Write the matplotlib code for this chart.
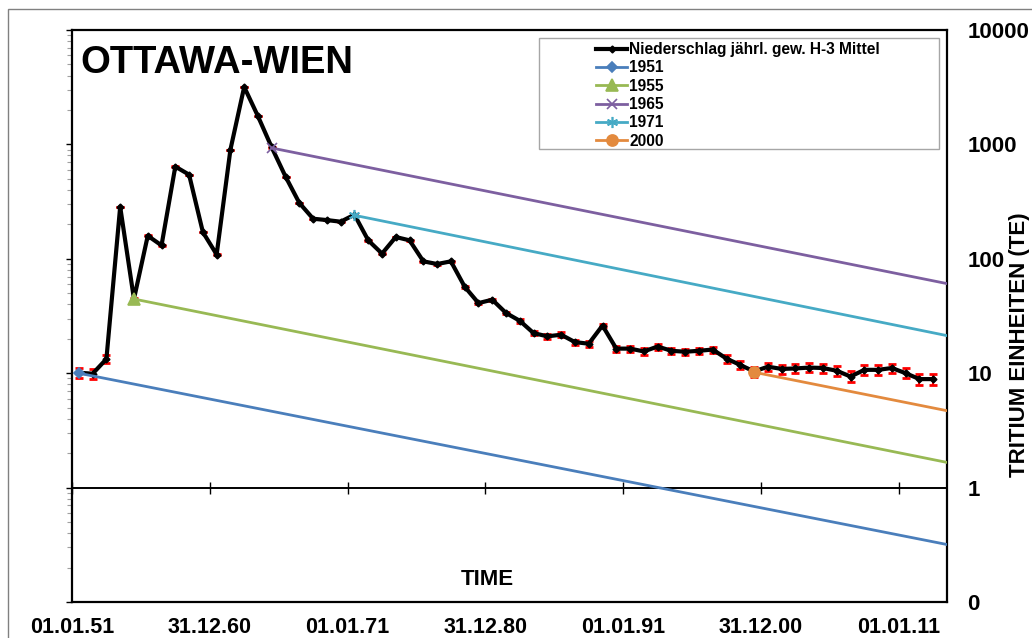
import matplotlib
matplotlib.use("Agg")
import matplotlib.pyplot as plt
import matplotlib.dates as mdates
from matplotlib.patches import Rectangle
from matplotlib.ticker import LogLocator, FuncFormatter, NullFormatter
import numpy as np
from datetime import date

plt.rcParams['font.family'] = ['Liberation Sans', 'DejaVu Sans']
plt.rcParams['font.weight'] = 'bold'

# Jahresmittel Niederschlag (TE), 1951-2013
years = list(range(1951, 2014))
tritium = [10.1, 9.9, 13.3, 285, 44.5, 159, 131, 640, 544, 171,
           109, 900, 3180, 1760, 940, 523, 308, 224, 218, 211,
           243, 145, 111, 155, 145, 95, 90, 95, 57, 41,
           43.9, 33.6, 28.7, 22.4, 21.0, 21.7, 18.7, 18.1, 26.1, 16.4,
           16.4, 15.5, 17.1, 15.7, 15.4, 15.7, 16.1, 13.4, 11.8, 10.35,
           11.4, 10.9, 11.0, 11.2, 11.1, 10.5, 9.35, 10.7, 10.7, 11.1,
           10.0, 8.88, 8.88]
err_te = 1.0

# Zerfallslinien: Startjahr, Startwert, Endwert (am rechten Rand)
decay_names = ['1951', '1955', '1965', '1971', '2000']
decay_start_year = [1951, 1955, 1965, 1971, 2000]
decay_start_val = [10.0, 44.5, 930, 240, 10.2]
decay_end_val = [0.318, 1.66, 60.7, 21.3, 4.7]
decay_colors = ['#4A7EBB', '#98B954', '#7D5FA0', '#46AAC5', '#E38A3E']
decay_markers = ['D', '^', 'x', (6, 2, 0), 'o']
decay_ms = [5, 8, 7, 8, 8]

end_date = date(2014, 7, 1)
tick_dates = [date(1951, 1, 1), date(1960, 12, 31), date(1971, 1, 1), date(1980, 12, 31),
              date(1991, 1, 1), date(2000, 12, 31), date(2011, 1, 1)]

W, H = 1032, 638
fig = plt.figure(figsize=(W / 100, H / 100), dpi=100)
ax = fig.add_axes([72 / W, 36 / H, 875 / W, 572 / H])

x = mdates.date2num([date(y, 7, 1) for y in years])
x_end = mdates.date2num(end_date)

ax.errorbar(x, tritium, yerr=err_te, fmt='none', ecolor='red', elinewidth=1.5,
            capsize=3, capthick=2, zorder=3)
ax.plot(x, tritium, color='black', lw=3.0, marker='D', ms=3.5, zorder=4,
        label='Niederschlag jährl. gew. H-3 Mittel')

for name, y0, v0, v1, c, m, ms in zip(decay_names, decay_start_year, decay_start_val,
                                       decay_end_val, decay_colors, decay_markers, decay_ms):
    x0 = mdates.date2num(date(y0, 7, 1))
    ax.plot([x0, x_end], [v0, v1], color=c, lw=2, marker=m, ms=ms, mew=1.2,
            markevery=[0], zorder=5, label=name)

ax.set_yscale('log')
ax.set_ylim(0.1, 10000)
ax.set_xlim(mdates.date2num(date(1951, 1, 1)), x_end)

ax.yaxis.set_major_locator(LogLocator(base=10, numticks=10))
ax.yaxis.set_minor_locator(LogLocator(base=10, subs=np.arange(2, 10), numticks=100))
ax.yaxis.set_minor_formatter(NullFormatter())
ax.yaxis.set_major_formatter(FuncFormatter(lambda v, p: f"{v:.0f}"))
ax.tick_params(axis='y', which='major', left=True, right=False, labelleft=False,
               labelright=True, direction='out', length=4, width=1, pad=10.5,
               labelsize=16)
ax.tick_params(axis='y', which='minor', left=True, right=False, direction='out',
               length=3.5, width=0.8, color='#A0A0A0')

# x-Achse kreuzt bei 1
ax.spines['bottom'].set_position(('data', 1))
ax.set_xticks(mdates.date2num(tick_dates))
ax.tick_params(axis='x', direction='inout', length=9, width=1, labelbottom=False)
for s in ax.spines.values():
    s.set_linewidth(1.6)
ax.spines['bottom'].set_linewidth(1.4)

sec = ax.secondary_xaxis('bottom')
sec.set_xticks(mdates.date2num(tick_dates))
sec.xaxis.set_major_formatter(mdates.DateFormatter('%d.%m.%y'))
sec.tick_params(length=0, pad=11, labelsize=15.5)
sec.spines['bottom'].set_linewidth(1.6)

leg = ax.legend(loc='upper left', bbox_to_anchor=(596 / W, 1 - 42 / H),
                bbox_transform=fig.transFigure, frameon=False, fontsize=11.2,
                borderpad=0, borderaxespad=0, handlelength=2.0, handletextpad=0.15,
                labelspacing=0.215, numpoints=1)

fig.patches.append(Rectangle((539 / W, 1 - 149 / H), 400 / W, 111 / H,
                             transform=fig.transFigure, fill=False,
                             ec='#A6A6A6', lw=1))
fig.patches.append(Rectangle((8 / W, -0.1), 1.2, 1.1 - 9 / H,
                             transform=fig.transFigure, fill=False,
                             ec='#808080', lw=1))

fig.text(80 / W, 1 - 73 / H, 'OTTAWA-WIEN', fontsize=27.5, fontweight='bold',
         va='baseline', ha='left')
fig.text(487 / W, 1 - 585 / H, 'TIME', fontsize=16, fontweight='bold',
         va='baseline', ha='center')
fig.text(1020 / W, 1 - 345 / H, 'TRITIUM EINHEITEN (TE)', fontsize=16,
         fontweight='bold', rotation=90, va='center', ha='center')

fig.savefig('out.png', dpi=100)
